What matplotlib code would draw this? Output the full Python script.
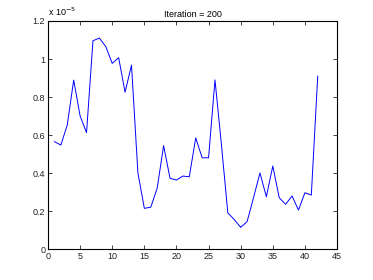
import numpy as np
import matplotlib
matplotlib.use("Agg")
import matplotlib.pyplot as plt
from matplotlib.ticker import FuncFormatter

plt.rcParams['font.family'] = ['Liberation Sans', 'DejaVu Sans']

# values, in units of 1e-5
iters = list(range(1, 43))
vals = [0.565, 0.547, 0.653, 0.889, 0.70, 0.612, 1.096, 1.11, 1.065, 0.977,
        1.007, 0.825, 0.968, 0.40, 0.214, 0.22, 0.32, 0.544, 0.372, 0.363,
        0.384, 0.38, 0.585, 0.48, 0.48, 0.89, 0.55, 0.19, 0.155, 0.114,
        0.144, 0.27, 0.40, 0.275, 0.437, 0.27, 0.235, 0.279, 0.205, 0.296,
        0.284, 0.91]
scale = 1e-5
title = "Iteration = 200"

y = np.array(vals) * scale

fig = plt.figure(figsize=(3.73, 2.8), dpi=100)
ax = fig.add_axes([0.1287, 0.1107, 0.7748, 0.8143])
ax.plot(iters, y, color='blue', linewidth=0.7)

ax.set_xlim(0, 45)
ax.set_ylim(0, 1.2 * scale)
ax.set_xticks(np.arange(0, 46, 5))
ax.set_yticks(np.arange(0, 1.21, 0.2) * scale)
ax.yaxis.set_major_formatter(FuncFormatter(lambda v, p: f"{v / scale:.1f}".rstrip('0').rstrip('.')))

ax.tick_params(direction='in', length=3, width=0.6, labelsize=6.5, colors='#222222',
               top=True, right=True, pad=2)
for s in ax.spines.values():
    s.set_linewidth(0.8)

ax.set_title(title, fontsize=6.5, pad=3)
ax.text(0.0, 1.012, r"x 10$^{-5}$", transform=ax.transAxes, fontsize=6.5, va='bottom', ha='left')

fig.savefig("out.png", dpi=100)
